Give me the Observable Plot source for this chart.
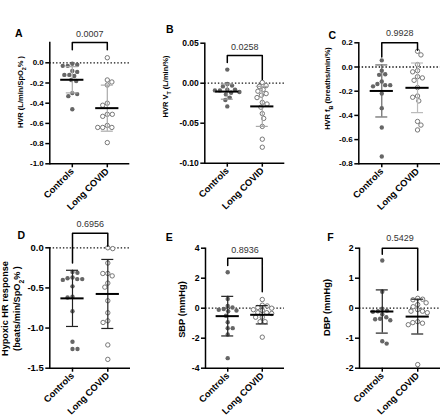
<!DOCTYPE html>
<html><head><meta charset="utf-8">
<script src="https://cdn.jsdelivr.net/npm/d3@7"></script>
<script src="https://cdn.jsdelivr.net/npm/@observablehq/plot@0.6"></script>
<style>
body{margin:0;background:#fff}
#fig{position:relative;width:440px;height:419px;overflow:hidden;background:#fff}
#fig > svg{position:absolute}
</style></head><body><div id="fig"></div>
<script>
const groups = ["Controls", "Long COVID"];

// Panel A – HVR (L/min/SpO2%)
const aControls = [-0.01, -0.02, -0.03, -0.03, -0.08, -0.09, -0.12, -0.13, -0.12, -0.17, -0.18, -0.30, -0.31, -0.33, -0.46];
const aLong = [0.05, -0.17, -0.19, -0.22, -0.40, -0.42, -0.51, -0.53, -0.51, -0.62, -0.64, -0.64, -0.64, -0.79];
const aMeans = [-0.168, -0.449];
const aSD = [0.13, 0.228];
const aP = "0.0007";
const aBracket = [0.2, 0.13, 0.13, 0.28];
const aTicks = [0, -0.2, -0.4, -0.6, -0.8, -1.0];

// Panel B – HVR VT (L/min/%)
const bControls = [0.017, -0.001, -0.003, -0.004, -0.008, -0.008, -0.009, -0.009, -0.011, -0.012, -0.014, -0.018, -0.021, -0.029];
const bLong = [0.001, -0.003, -0.004, -0.008, -0.010, -0.013, -0.015, -0.018, -0.024, -0.026, -0.030, -0.038, -0.044, -0.054, -0.070, -0.080];
const bMeans = [-0.0105, -0.029];
const bSD = [0.0095, 0.025];
const bP = "0.0258";
const bBracket = [0.0346, 0.026, 0.0046, 0.045];
const bTicks = [0.05, 0, -0.05, -0.10];

// Panel C – HVR fB (breaths/min/%)
const cControls = [0.055, -0.03, -0.06, -0.065, -0.12, -0.14, -0.15, -0.15, -0.16, -0.22, -0.34, -0.50, -0.74];
const cLong = [0.13, 0.10, 0.02, -0.03, -0.04, -0.08, -0.09, -0.11, -0.17, -0.24, -0.25, -0.28, -0.45, -0.48, -0.52];
const cMeans = [-0.198, -0.172];
const cSD = [0.215, 0.205];
const cP = "0.9928";
const cBracket = [0.2, 0.083, 0.138, 0.276];
const cTicks = [0.2, 0, -0.2, -0.4, -0.6, -0.8];

// Panel D – Hypoxic HR response
const dControls = [-0.30, -0.31, -0.37, -0.38, -0.39, -0.39, -0.40, -0.48, -0.61, -0.62, -0.79, -1.17, -1.26, -1.26];
const dLong = [0.0, -0.01, -0.19, -0.32, -0.32, -0.35, -0.44, -0.49, -0.66, -0.81, -0.91, -0.93, -1.21, -1.39];
const dMeans = [-0.63, -0.575];
const dSD = [0.35, 0.43];
const dP = "0.6956";
const dBracket = [0.18, -0.19, 0.02, 0.29];
const dTicks = [0, -0.5, -1.0, -1.5];

// Panel E – SBP (mmHg)
const eControls = [2.4, 0.62, 0.15, 0.05, -0.05, -0.1, -0.15, -0.2, -0.5, -0.93, -1.33, -1.33, -1.75, -3.33];
const eLong = [0.58, 0.2, 0.15, 0.05, 0.0, -0.1, -0.15, -0.3, -0.3, -0.35, -0.6, -0.6, -0.9, -0.9, -1.93];
const eMeans = [-0.53, -0.44];
const eSD = [1.32, 0.61];
const eP = "0.8936";
const eBracket = [3.33, 2.85, 1.1, 3.9];
const eTicks = [4, 2, 0, -2, -4];

// Panel F – DBP (mmHg)
const fControls = [1.59, 0.55, -0.02, -0.08, -0.1, -0.12, -0.2, -0.3, -0.35, -0.37, -0.4, -1.1, -1.18];
const fLong = [0.33, 0.3, 0.28, 0.18, 0.12, 0.05, -0.05, -0.1, -0.1, -0.15, -0.45, -0.48, -0.5, -0.55, -1.88];
const fMeans = [-0.11, -0.28];
const fSD = [0.72, 0.58];
const fP = "0.5429";
const fBracket = [2.0, 1.8, 0.6, 2.35];
const fTicks = [2, 1, 0, -1, -2];

const FONT = "'Liberation Sans', Arial, Helvetica, sans-serif";
const NS = "http://www.w3.org/2000/svg";
const PAD = 22.5 / 35; // outer padding of the category axis, in category units

function subscripts(svg) {
  const els = [...svg.querySelectorAll("text, tspan")].filter(e => e.childElementCount === 0 && e.textContent.includes("_{"));
  for (const el of els) {
    const s = el.textContent; el.textContent = "";
    const re = /_\{([^}]*)\}/g; let last = 0, m;
    while ((m = re.exec(s))) {
      el.appendChild(document.createTextNode(s.slice(last, m.index)));
      const sub = document.createElementNS(NS, "tspan");
      sub.setAttribute("baseline-shift", "sub");
      sub.setAttribute("font-size", "72%");
      sub.textContent = m[1];
      el.appendChild(sub);
      last = re.lastIndex;
    }
    el.appendChild(document.createTextNode(s.slice(last)));
  }
}

// symmetric scatter (column) layout: returns horizontal offsets in pixels
function swarm(vals, toPx, d) {
  const order = vals.map((_, i) => i).sort((a, b) => vals[b] - vals[a]);
  const X = new Array(vals.length), Y = vals.map(toPx), placed = [];
  let sum = 0;
  for (const i of order) {
    const cands = [0];
    for (const j of placed) {
      const dy = Y[i] - Y[j];
      if (Math.abs(dy) < d) { const dx = Math.sqrt(d * d - dy * dy); cands.push(X[j] - dx, X[j] + dx); }
    }
    cands.sort((a, b) => (Math.abs(a) - Math.abs(b)) || (sum > 0 ? a - b : b - a));
    X[i] = 0;
    for (const c of cands) {
      if (placed.every(j => (c - X[j]) ** 2 + (Y[i] - Y[j]) ** 2 >= d * d - 1e-6)) { X[i] = c; break; }
    }
    sum += X[i]; placed.push(i);
  }
  return X;
}

function panel(s) {
  const inner = s.width - s.ml - s.mr;
  const innerH = s.height - s.mt - s.mb;
  const pxPerUnit = inner / (1 + 2 * PAD);
  const [d0, d1] = s.domain;
  const toPx = v => (v - d0) / (d1 - d0) * innerH;
  const pts = [];
  [s.ctrl, s.lc].forEach((vals, gi) => {
    const off = swarm(vals, toPx, 5);
    vals.forEach((v, k) => pts.push({i: gi, x: gi + off[k] / pxPerUnit, v}));
  });
  const meanHalf = 11.6 / pxPerUnit, capHalf = 6 / pxPerUnit;
  const [top, legL, legR, pY] = s.bracket;
  const bracketPts = [{i: 0, v: legL}, {i: 0, v: top}, {i: 1, v: top}, {i: 1, v: legR}];
  const stats = groups.map((g, i) => ({i, mean: s.means[i], lo: s.means[i] - s.sds[i], hi: s.means[i] + s.sds[i], c: s.err[i]}));
  const svg = Plot.plot({
    width: s.width, height: s.height,
    marginLeft: s.ml, marginRight: s.mr, marginTop: s.mt, marginBottom: s.mb,
    style: {fontFamily: FONT, fontWeight: "bold", fontSize: s.tick + "px", background: "transparent", color: "black", overflow: "visible"},
    x: {domain: [-PAD, 1 + PAD], axis: null},
    y: {domain: s.domain, axis: null},
    marks: [
      Plot.ruleY([0], {stroke: "#111", strokeWidth: 1.3, strokeDasharray: "1.4,2"}),
      Plot.dot(pts.filter(p => p.i === 0), {x: "x", y: "v", r: 2.2, fill: "#666"}),
      Plot.dot(pts.filter(p => p.i === 1), {x: "x", y: "v", r: 2.2, fill: "white", stroke: "#777", strokeWidth: 1}),
      Plot.ruleX(stats, {x: "i", y1: "lo", y2: "hi", stroke: "c", strokeWidth: 1.2}),
      Plot.ruleY(stats, {y: "lo", x1: d => d.i - capHalf, x2: d => d.i + capHalf, stroke: "c", strokeWidth: 1.2}),
      Plot.ruleY(stats, {y: "hi", x1: d => d.i - capHalf, x2: d => d.i + capHalf, stroke: "c", strokeWidth: 1.2}),
      Plot.ruleY(stats, {y: "mean", x1: d => d.i - meanHalf, x2: d => d.i + meanHalf, stroke: "black", strokeWidth: 2}),
      Plot.line(bracketPts, {x: "i", y: "v", stroke: "black", strokeWidth: 1.5}),
      Plot.text([s.p], {x: () => 0.5, y: () => pY, text: d => d, fontWeight: "normal", fontSize: 9, fill: "#333"}),
      Plot.axisY({ticks: s.ticks, tickFormat: s.fmt, tickSize: 4, tickPadding: 2, strokeWidth: 1.5, label: null}),
      Plot.axisX({ticks: [0, 1], tickFormat: i => groups[i], tickRotate: -45, tickSize: 4, tickPadding: 2, fontSize: 9.3, strokeWidth: 1.5, label: null}),
      Plot.ruleY([s.domain[0]], {strokeWidth: 1.5}),
      Plot.frame({anchor: "left", strokeWidth: 1.5}),
      Plot.text([s.letter], {frameAnchor: "top-left", dx: s.letterXY[0] - s.ml, dy: s.letterXY[1] - s.mt, fontSize: 10.5, textAnchor: "middle"}),
      Plot.text([s.ylabel], {frameAnchor: "left", rotate: -90, dx: s.labelXY[0] - s.ml, dy: s.labelXY[1] - (s.mt + innerH / 2), fontSize: s.lab, lineHeight: 1.25, textAnchor: "middle"})
    ]
  });
  subscripts(svg);
  svg.style.left = s.left + "px";
  svg.style.top = s.top + "px";
  document.getElementById("fig").appendChild(svg);
}

const f1 = d => d.toFixed(1), f2 = d => d.toFixed(2), f0 = d => d.toFixed(0);
const darkErr = ["#222", "#222"];

panel({letter: "A", left: 0, top: 0, width: 145, height: 210, ml: 49.3, mr: 15.7, mt: 42.1, mb: 46.7,
  domain: [-1, 0.2], ticks: aTicks, fmt: f1, ctrl: aControls, lc: aLong, means: aMeans, sds: aSD, p: aP, bracket: aBracket,
  err: ["#aaa", "#aaa"], tick: 8, lab: 7.5, ylabel: "HVR (L/min/SpO_{2}% )", letterXY: [18.3, 29.3], labelXY: [19, 91.5]});
panel({letter: "B", left: 145, top: 0, width: 145, height: 210, ml: 59.3, mr: 5.7, mt: 42.7, mb: 47.3,
  domain: [-0.10, 0.05], ticks: bTicks, fmt: f2, ctrl: bControls, lc: bLong, means: bMeans, sds: bSD, p: bP, bracket: bBracket,
  err: ["#999", "#aaa"], tick: 8.5, lab: 7.5, ylabel: "HVR V_{T} (L/min/%)", letterXY: [24.3, 25], labelXY: [19, 86]});
panel({letter: "C", left: 290, top: 0, width: 150, height: 210, ml: 68.3, mr: 0, mt: 42.3, mb: 46.7,
  domain: [-0.8, 0.2], ticks: cTicks, fmt: f1, ctrl: cControls, lc: cLong, means: cMeans, sds: cSD, p: cP, bracket: cBracket,
  err: ["#666", "#bbb"], tick: 8, lab: 7.5, ylabel: "HVR f_{B} (breaths/min/%)", letterXY: [41.7, 31], labelXY: [36.7, 88]});
panel({letter: "D", left: 0, top: 210, width: 145, height: 209, ml: 49.3, mr: 15, mt: 37.3, mb: 51.3,
  domain: [-1.5, 0], ticks: dTicks, fmt: f1, ctrl: dControls, lc: dLong, means: dMeans, sds: dSD, p: dP, bracket: dBracket,
  err: darkErr, tick: 9.5, lab: 9.2, ylabel: "Hypoxic HR response\n(beats/min/SpO_{2}% )", letterXY: [20.7, 20.7], labelXY: [10, 98]});
panel({letter: "E", left: 145, top: 210, width: 145, height: 209, ml: 60, mr: 6, mt: 37.7, mb: 51.3,
  domain: [-4, 4], ticks: eTicks, fmt: f0, ctrl: eControls, lc: eLong, means: eMeans, sds: eSD, p: eP, bracket: eBracket,
  err: darkErr, tick: 8.7, lab: 9.3, ylabel: "SBP (mmHg)", letterXY: [23.7, 22.7], labelXY: [36, 99]});
panel({letter: "F", left: 290, top: 210, width: 150, height: 209, ml: 69, mr: 0, mt: 37.7, mb: 51.3,
  domain: [-2, 2], ticks: fTicks, fmt: f0, ctrl: fControls, lc: fLong, means: fMeans, sds: fSD, p: fP, bracket: fBracket,
  err: darkErr, tick: 8.7, lab: 9.3, ylabel: "DBP (mmHg)", letterXY: [40, 22.7], labelXY: [36, 97]});
</script></body></html>
